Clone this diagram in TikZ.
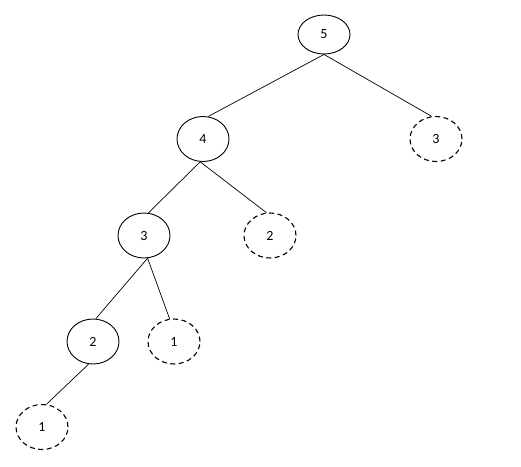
\documentclass[tikz,border=0pt]{standalone}
\usepackage{fontspec}
\setmainfont{Carlito}
\usetikzlibrary{shapes.geometric}
\begin{document}
\begin{tikzpicture}[x=1pt,y=-1pt,
  vtx/.style={ellipse,draw,line width=0.9pt,minimum width=52pt,minimum height=45pt,inner sep=0pt,font=\fontsize{14}{16}\selectfont},
  solidv/.style={vtx},
  dashv/.style={vtx,line width=1.1pt,dash pattern=on 5pt off 3.5pt},
  edge/.style={line width=0.7pt}]
\useasboundingbox (0,0) rectangle (521,466);
\node[solidv,minimum height=39pt] (n5) at (324,34.5) {5};
\node[solidv] (n4) at (203,139) {4};
\node[dashv] (d3) at (436,139) {3};
\node[solidv] (n3) at (144,235.5) {3};
\node[dashv] (d2) at (270,235.5) {2};
\node[solidv] (n2) at (93,341.5) {2};
\node[dashv] (d1a) at (174,341.5) {1};
\node[dashv] (d1b) at (42,427) {1};
\draw[edge] (n5.south) -- (n4.77);
\draw[edge] (n5.south) -- (d3.101);
\draw[edge] (n4.263) -- (n3.79);
\draw[edge] (n4.263) -- (d2.99);
\draw[edge] (n3.279) -- (n2.83);
\draw[edge] (n3.279) -- (d1a.101);
\draw[edge] (n2.259) -- (d1b.79);
\end{tikzpicture}
\end{document}
